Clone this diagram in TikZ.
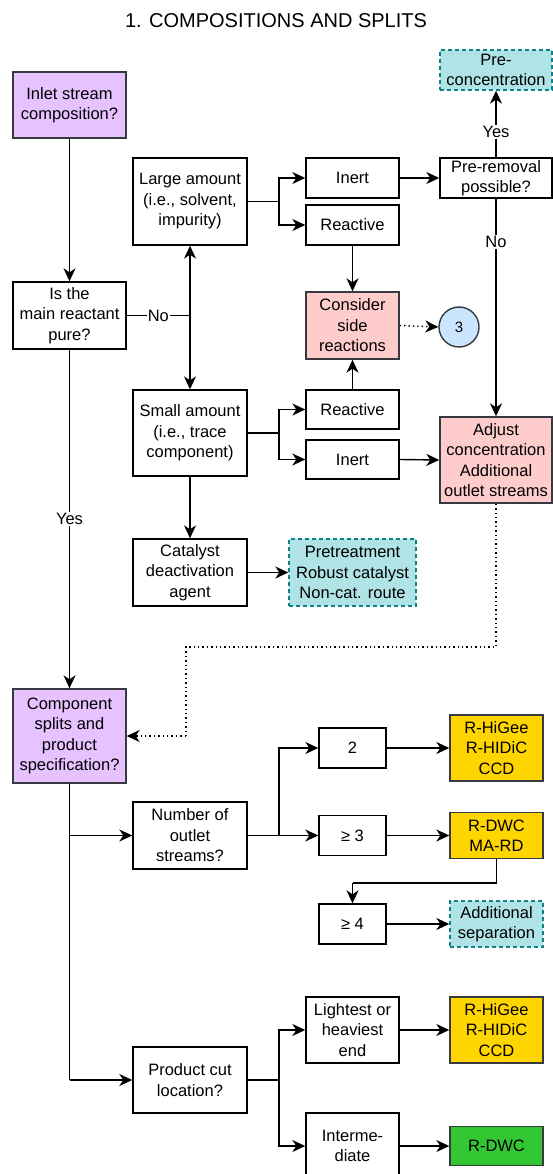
\documentclass[tikz,border=0pt]{standalone}
\usepackage{fontspec}
\setmainfont{Liberation Sans}
\usetikzlibrary{arrows.meta,calc}
\definecolor{purp}{HTML}{E6C2FF}
\definecolor{pinkf}{HTML}{FFCCCC}
\definecolor{tealf}{HTML}{B0E3E6}
\definecolor{teald}{HTML}{0E8088}
\definecolor{lblue}{HTML}{CCE5FF}
\definecolor{gold}{HTML}{FFD500}
\definecolor{greenf}{HTML}{33C633}
\definecolor{edge}{HTML}{36393D}
\begin{document}
\begin{tikzpicture}[x=1pt,y=-1pt,
  txt/.style={font=\fontsize{16.5}{20.5}\selectfont},
  box/.style={txt, draw=black, line width=1.4pt, fill=white, align=center, inner sep=0pt},
  cbox/.style={box, draw=edge},
  purpbox/.style={cbox, fill=purp},
  pinkbox/.style={cbox, fill=pinkf},
  goldbox/.style={cbox, fill=gold},
  greenbox/.style={cbox, fill=greenf},
  tealbox/.style={box, draw=teald, fill=tealf, dash pattern=on 4pt off 3pt},
  ln/.style={line width=1.4pt, draw=black},
  arr/.style={ln, -{Stealth[length=13pt,width=12pt,inset=4pt]}},
  dotarr/.style={arr, dash pattern=on 1.4pt off 3pt},
  dotln/.style={ln, dash pattern=on 1.4pt off 3pt},
  lbl/.style={txt, fill=white, inner sep=1pt}
]
\useasboundingbox (0,0) rectangle (552,1174);

\node[font=\fontsize{20}{24}\selectfont] (title) at (276,21) {1. COMPOSITIONS AND SPLITS};

% left column
\node[purpbox, minimum width=113, minimum height=66] (inlet) at (69.5,105) {Inlet stream\\composition?};
\node[box, minimum width=113, minimum height=67] (pure) at (69.5,315.5) {Is the\\main reactant\\pure?};
\node[purpbox, minimum width=113, minimum height=94] (comp) at (69.5,736) {Component\\splits and\\product\\specification?};

% second column
\node[box, minimum width=114, minimum height=87] (large) at (190,201.5) {Large amount\\(i.e., solvent,\\impurity)};
\node[box, minimum width=114, minimum height=86] (small) at (190,433) {Small amount\\(i.e., trace\\component)};
\node[box, minimum width=114, minimum height=67] (cat) at (190,572.5) {Catalyst\\deactivation\\agent};
\node[box, minimum width=114, minimum height=67] (number) at (190,835.5) {Number of\\outlet\\streams?};
\node[box, minimum width=114, minimum height=66] (product) at (190,1080) {Product cut\\location?};

% third column
\node[box, minimum width=93, minimum height=40] (inert1) at (352.5,178) {Inert};
\node[box, minimum width=93, minimum height=40] (react1) at (352.5,225) {Reactive};
\node[pinkbox, minimum width=93, minimum height=67] (consider) at (352.5,325.5) {Consider\\side\\reactions};
\node[box, minimum width=93, minimum height=39] (react2) at (352.5,409.5) {Reactive};
\node[box, minimum width=93, minimum height=39] (inert2) at (352.5,459.5) {Inert};
\node[tealbox, minimum width=127, minimum height=67] (pretreat) at (352.5,572.5) {Pretreatment\\Robust catalyst\\Non-cat. route};
\node[box, minimum width=67, minimum height=40] (two) at (352.5,748) {2};
\node[box, minimum width=67, minimum height=40] (ge3) at (352.5,835.5) {≥ 3};
\node[box, minimum width=67, minimum height=40] (ge4) at (352.5,924) {≥ 4};
\node[box, minimum width=93, minimum height=66] (lightest) at (352.5,1030) {Lightest or\\heaviest\\end};
\node[box, minimum width=93, minimum height=66] (inter) at (352.5,1146) {Interme-\\diate};

% right column
\node[tealbox, minimum width=112, minimum height=40] (preconc) at (496,70) {Pre-\\concentration};
\node[box, minimum width=112, minimum height=40] (prerem) at (496,178) {Pre-removal\\possible?};
\node[circle, draw=edge, line width=1.4pt, fill=lblue, minimum size=40, inner sep=0pt, font=\fontsize{15}{18}\selectfont] (c3) at (459,327) {3};
\node[pinkbox, minimum width=112, minimum height=86] (adjust) at (496,460) {Adjust\\concentration\\Additional\\outlet streams};
\node[goldbox, minimum width=93, minimum height=66] (hig1) at (496.5,748) {R-HiGee\\R-HIDiC\\CCD};
\node[goldbox, minimum width=93, minimum height=46] (dwc1) at (496.5,835.5) {R-DWC\\MA-RD};
\node[tealbox, minimum width=93, minimum height=46] (addsep) at (496.5,924) {Additional\\separation};
\node[goldbox, minimum width=93, minimum height=66] (hig2) at (496.5,1030) {R-HiGee\\R-HIDiC\\CCD};
\node[greenbox, minimum width=93, minimum height=39] (dwc2) at (496.5,1146) {R-DWC};

% junction coordinates
\coordinate (jno) at (190,315.5);
\coordinate (jl) at (279,201.5);
\coordinate (js) at (279,433);
\coordinate (jd1) at (496,647);
\coordinate (jd2) at (186,647);
\coordinate (jd3) at (186,736);
\coordinate (jc1) at (69.5,835.5);
\coordinate (jc2) at (69.5,1080);
\coordinate (jn) at (279,835.5);
\coordinate (jr1) at (496.5,883);
\coordinate (jr2) at (352.5,883);
\coordinate (jp) at (279,1080);

% connectors
\draw[arr] (inlet) -- (pure);
\draw[ln] (pure.east) -- node[lbl, pos=0.5] {No} (jno);
\draw[arr] (jno) -- (large.south);
\draw[arr] (jno) -- (small.north);
\draw[arr] (pure.south) -- node[lbl, pos=0.5] {Yes} (comp.north);

\draw[ln] (large.east) -- (jl);
\draw[arr] (jl) |- (inert1.west);
\draw[arr] (jl) |- (react1.west);
\draw[arr] (inert1.east) -- (prerem.west);
\draw[arr] (prerem.north) -- node[lbl, pos=0.38] {Yes} (preconc.south);
\draw[arr] (prerem.south) -- node[lbl, pos=0.2] {No} (adjust.north);
\draw[arr] (react1.south) -- (consider.north);
\draw[dotarr] (consider.east) -- (c3.west);
\draw[arr] (react2.north) -- (consider.south);

\draw[ln] (small.east) -- (js);
\draw[arr] (js) |- (react2.west);
\draw[arr] (js) |- (inert2.west);
\draw[arr] (inert2.east) -- (adjust.west);
\draw[arr] (small.south) -- (cat.north);
\draw[arr] (cat.east) -- (pretreat.west);

\draw[dotln] (adjust.south) -- (jd1) -- (jd2) -- (jd3);
\draw[dotarr] (jd3) -- (comp.east);

\draw[ln] (comp.south) -- (jc1) -- (jc2);
\draw[arr] (jc1) -- (number.west);
\draw[arr] (jc2) -- (product.west);

\draw[ln] (number.east) -- (jn);
\draw[arr] (jn) |- (two.west);
\draw[arr] (jn) -- (ge3.west);
\draw[arr] (two.east) -- (hig1.west);
\draw[arr] (ge3.east) -- (dwc1.west);
\draw[ln] (dwc1.south) -- (jr1) -- (jr2);
\draw[arr] (jr2) -- (ge4.north);
\draw[arr] (ge4.east) -- (addsep.west);

\draw[ln] (product.east) -- (jp);
\draw[arr] (jp) |- (lightest.west);
\draw[arr] (jp) |- (inter.west);
\draw[arr] (lightest.east) -- (hig2.west);
\draw[arr] (inter.east) -- (dwc2.west);
\end{tikzpicture}
\end{document}
